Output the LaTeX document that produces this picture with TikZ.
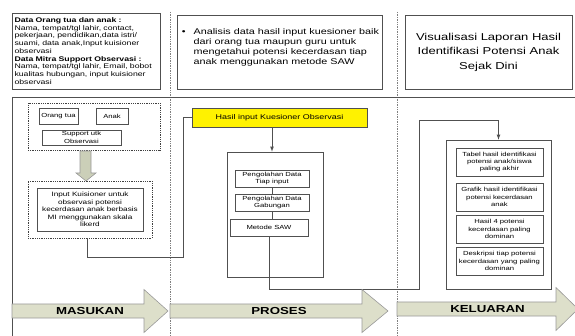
\documentclass[tikz,border=0pt]{standalone}
\usepackage{fontspec}
\setmainfont{Liberation Sans}[FakeStretch=1.3]
\definecolor{phasefill}{RGB}{221,223,202}
\definecolor{downfill}{RGB}{203,207,184}
\definecolor{lineclr}{RGB}{80,80,80}

\begin{document}
\begin{tikzpicture}[x=1pt, y=-1pt,
  every node/.style = {shape=rectangle, align=center, inner sep=1pt},
  box/.style = {draw=lineclr, line width=0.7pt},
  group/.style = {draw=black!75, densely dotted, line width=0.8pt},
  lane/.style = {draw=gray, densely dotted, line width=0.7pt},
  wire/.style = {draw=lineclr, line width=0.7pt},
  blockarrow/.style = {draw=gray!80, fill=phasefill, line width=0.6pt},
  phase/.style = {font=\bfseries\fontsize{10.2}{12}\selectfont},
  small/.style = {font=\fontsize{5.9}{7.4}\selectfont},
  >=latex]
  \useasboundingbox (0,0) rectangle (575,336);

  % lanes and frame
  \draw[lane] (170,12) -- (170,336);
  \draw[lane] (397,12) -- (397,336);
  \draw[wire] (12,97) -- (575,97);
  \draw[wire] (12,97) -- (12,336);

  % header row
  \node[box, minimum width=148pt, minimum height=76pt, text width=143pt, align=left,
    font=\fontsize{6.7}{7.7}\selectfont] (datainput) at (86,51)
    {\textbf{Data Orang tua dan anak :}\\ Nama, tempat/tgl lahir, contact,\\
     pekerjaan, pendidikan,data istri/\\ suami, data anak,Input kuisioner\\ observasi\\
     \textbf{Data Mitra Support Observasi :}\\ Nama, tempat/tgl lahir, Email, bobot\\
     kualitas hubungan, input kuisioner\\ observasi};
  \node[box, minimum width=205pt, minimum height=74pt] (analisis) at (279.5,52) {};
  \node[anchor=north west, inner sep=0pt, font=\fontsize{8.3}{10}\selectfont] (analisistext)
    at ([xshift=5pt,yshift=-13pt]analisis.north west)
    {\begin{tabular}{@{}l@{\hspace{8pt}}l@{}}
      \textbullet & Analisis data hasil input kuesioner baik\\
      & dari orang tua maupun guru untuk\\
      & mengetahui potensi kecerdasan tiap\\
      & anak menggunakan metode SAW
     \end{tabular}};
  \node[box, minimum width=167pt, minimum height=74pt, font=\fontsize{10}{14.5}\selectfont]
    (judul) at (488.5,52) {Visualisasi Laporan Hasil\\ Identifikasi Potensi Anak\\ Sejak Dini};

  % masukan
  \node[group, minimum width=132pt, minimum height=47pt] (sumber) at (94,126.5) {};
  \node[box, small, minimum width=39pt, minimum height=16pt] (ortu) at (58.5,116) {Orang tua};
  \node[box, small, minimum width=32pt, minimum height=16pt] (anak) at (112,116) {Anak};
  \node[box, small, minimum width=79pt, minimum height=15pt] (support) at (81.5,137.5) {Support utk\\ Observasi};
  \draw[blockarrow, fill=downfill] (80,151) -- (91,151) -- (91,173) -- (96,173)
    -- (86,181) -- (76,173) -- (80,173) -- cycle;
  \node[group, minimum width=124pt, minimum height=57pt] (kuisgroup) at (90,209.5) {};
  \node[box, minimum width=106pt, minimum height=43pt, font=\fontsize{6.3}{7.6}\selectfont]
    (kuisioner) at (90,209.5) {Input Kuisioner untuk\\ observasi potensi\\
     kecerdasan anak berbasis\\ MI menggunakan skala\\ likerd};

  % proses
  \node[box, fill=yellow, minimum width=175pt, minimum height=19pt,
    font=\fontsize{6.9}{8}\selectfont] (hasil) at (279.5,117.5) {Hasil input Kuesioner Observasi};
  \node[box, minimum width=96pt, minimum height=125pt] (olah) at (275,214.5) {};
  \node[box, small, minimum width=74pt, minimum height=17pt] (tiap) at (272,178.5) {Pengolahan Data\\ Tiap input};
  \node[box, small, minimum width=74pt, minimum height=17pt] (gabung) at (272,202.5) {Pengolahan Data\\ Gabungan};
  \node[box, small, minimum width=78pt, minimum height=17pt] (saw) at (269,227.5) {Metode SAW};

  % keluaran
  \node[box, minimum width=105pt, minimum height=149pt] (laporan) at (498.5,214.5) {};
  \node[box, small, minimum width=87pt, minimum height=28pt] (tabel) at (499.5,162)
    {Tabel hasil identifikasi\\ potensi anak/siswa\\ paling akhir};
  \node[box, small, minimum width=87pt, minimum height=28pt] (grafik) at (499.5,197)
    {Grafik hasil identifikasi\\ potensi kecerdasan\\ anak};
  \node[box, small, minimum width=87pt, minimum height=28pt] (dominan) at (499.5,229)
    {Hasil 4 potensi\\ kecerdasan paling\\ dominan};
  \node[box, small, minimum width=87pt, minimum height=28pt] (deskripsi) at (499.5,261)
    {Deskripsi tiap potensi\\ kecerdasan yang paling\\ dominan};

  % connectors
  \coordinate (elbowin) at (183,257);
  \coordinate (elbowout1) at (419,289);
  \coordinate (elbowout2) at (419,120);
  \draw[wire] ([xshift=-3pt]kuisgroup.south) |- (elbowin) |- (hasil.west);
  \draw[wire,->] (hasil.south -| tiap) -- (olah.north -| tiap);
  \draw[wire] (tiap.south) -- (gabung.north);
  \draw[wire] (gabung.south) -- (gabung.south |- saw.north);
  \draw[wire,->] (saw.south) |- (elbowout1) -- (elbowout2) -| (laporan.north);

  % phase arrows
  \foreach \xa/\xb/\xc/\yc/\name/\txt in {12/144/168/311/in/MASUKAN,
      170/362/388/311/proc/PROSES, 397/556/578/309/out/KELUARAN}{
    \draw[blockarrow] (\xa,\yc-7) -- (\xb,\yc-7) -- (\xb,\yc-21.5) -- (\xc,\yc)
      -- (\xb,\yc+21.5) -- (\xb,\yc+7) -- (\xa,\yc+7) -- cycle;
    \node[phase] (phase\name) at ({(\xa+\xc)/2},\yc) {\txt};
  }
\end{tikzpicture}
\end{document}
